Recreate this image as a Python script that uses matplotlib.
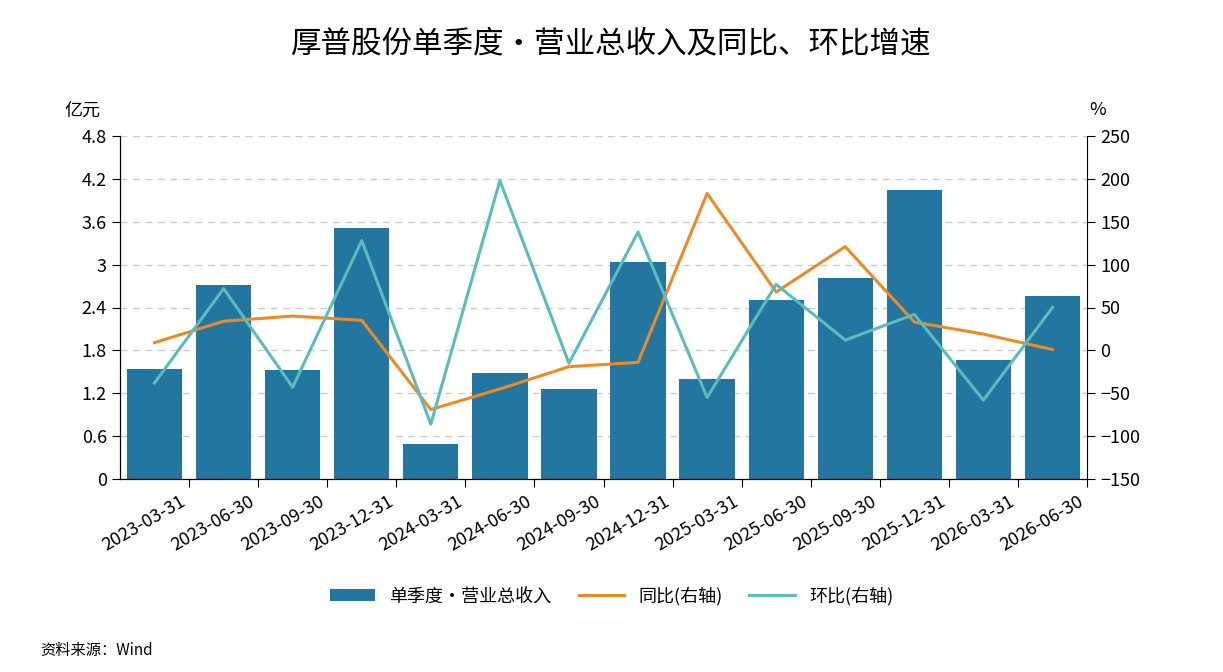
import matplotlib
matplotlib.use("Agg")
import matplotlib.pyplot as plt
import numpy as np

plt.rcParams["font.family"] = ["Noto Sans CJK SC", "DejaVu Sans"]

dates = ["2023-03-31", "2023-06-30", "2023-09-30", "2023-12-31", "2024-03-31", "2024-06-30",
         "2024-09-30", "2024-12-31", "2025-03-31", "2025-06-30", "2025-09-30", "2025-12-31",
         "2026-03-31", "2026-06-30"]
revenue = [1.54, 2.71, 1.53, 3.51, 0.49, 1.48, 1.26, 3.04, 1.40, 2.50, 2.81, 4.04, 1.67, 2.56]
yoy = [9, 34, 40, 35, -69, -45, -19, -14, 183, 68, 121, 33, 19, 1]
qoq = [-38, 72, -43, 128, -86, 198, -15, 138, -55, 77, 12, 42, -58, 50]

BAR = "#23769f"; ORANGE = "#ec8a25"; TEAL = "#5bbcbf"

fig = plt.figure(figsize=(12.23, 6.72), dpi=100)
ax = fig.add_axes([120/1223, 1-479/672, 967/1223, 343/672])
x = np.arange(len(dates))
ax.bar(x, revenue, width=0.8, color=BAR, label="单季度·营业总收入", zorder=2)
ax.set_ylim(0, 4.8)
ax.set_yticks(np.arange(0, 4.81, 0.6))
ax.set_yticklabels(["0", "0.6", "1.2", "1.8", "2.4", "3", "3.6", "4.2", "4.8"], fontsize=13)
ax.set_xlim(-0.5, len(dates) - 0.5)
ax.set_xticks(x + 0.5)
ax.set_xticklabels(dates, rotation=30, ha="right", fontsize=13)
ax.grid(axis="y", ls=(0, (5, 4)), color="#cccccc", lw=1, zorder=0)
for s in ("top",):
    ax.spines[s].set_visible(False)
ax.spines["right"].set_visible(False)
ax.tick_params(axis="x", length=6)
ax.tick_params(axis="y", length=6)
ax.text(-0.02, 1.06, "亿元", transform=ax.transAxes, fontsize=13, ha="right")

ax2 = ax.twinx()
ax2.plot(x, yoy, color=ORANGE, lw=2.2, label="同比(右轴)")
ax2.plot(x, qoq, color=TEAL, lw=2.2, label="环比(右轴)")
ax2.set_ylim(-150, 250)
ax2.set_yticks(range(-150, 251, 50))
ax2.tick_params(axis="y", labelsize=13, length=6)
ax2.spines["top"].set_visible(False)
ax2.text(1.02, 1.06, "%", transform=ax2.transAxes, fontsize=13, ha="right")

h1, l1 = ax.get_legend_handles_labels()
h2, l2 = ax2.get_legend_handles_labels()
fig.legend(h1 + h2, l1 + l2, loc="center", bbox_to_anchor=(0.5, 1-596/672), ncol=3,
           frameon=False, fontsize=13, handlelength=2.5, columnspacing=1.5)

fig.text(0.5, 1-45/672, "厚普股份单季度·营业总收入及同比、环比增速", ha="center", va="center", fontsize=22)
fig.text(40/1223, 1-651/672, "资料来源：Wind", ha="left", va="center", fontsize=11)

fig.savefig("out.png", dpi=100)
